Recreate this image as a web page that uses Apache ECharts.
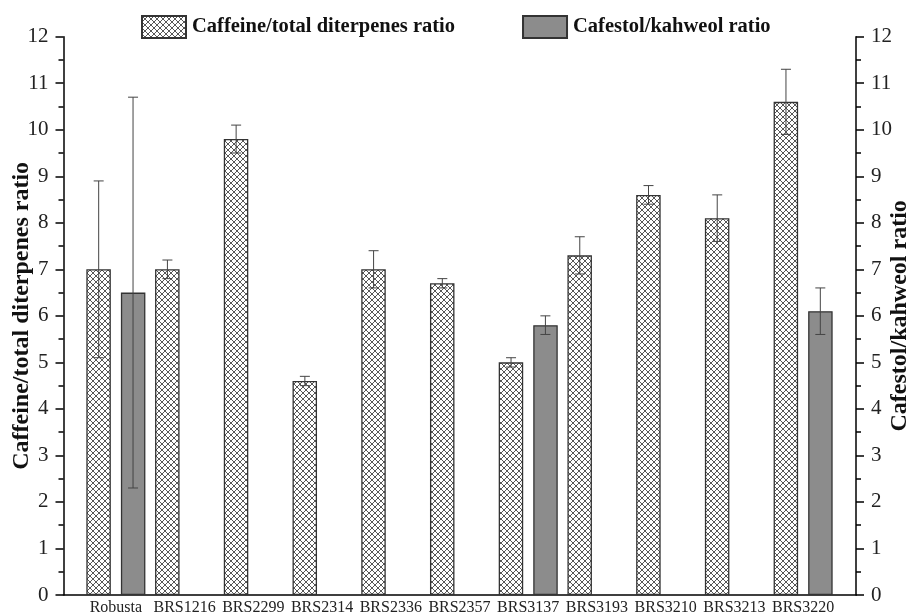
<!DOCTYPE html>
<html>
<head>
<meta charset="utf-8">
<script src="https://cdn.jsdelivr.net/npm/echarts@6/dist/echarts.min.js"></script>
<style>html,body{margin:0;padding:0;background:#fff}#c{width:906px;height:615px}</style>
</head>
<body>
<div id="c"></div>
<script>
const categories = ['Robusta','BRS1216','BRS2299','BRS2314','BRS2336','BRS2357','BRS3137','BRS3193','BRS3210','BRS3213','BRS3220'];
const caffeineRatio = [7.0, 7.0, 9.8, 4.6, 7.0, 6.7, 5.0, 7.3, 8.6, 8.1, 10.6];
const caffeineErr   = [1.9, 0.2, 0.3, 0.1, 0.4, 0.1, 0.1, 0.4, 0.2, 0.5, 0.7];
const cafestolRatio = [6.5, null, null, null, null, null, 5.8, null, null, null, 6.1];
const cafestolErr   = [4.2, null, null, null, null, null, 0.2, null, null, null, 0.5];
const yTicks = [0,1,2,3,4,5,6,7,8,9,10,11,12];
const seriesNames = ['Caffeine/total diterpenes ratio', 'Cafestol/kahweol ratio'];

function hatch(){
  const s = 6;
  const c = document.createElement('canvas'); c.width = s; c.height = s;
  const g = c.getContext('2d');
  g.fillStyle = '#fff'; g.fillRect(0,0,s,s);
  g.strokeStyle = '#444'; g.lineWidth = 0.9;
  g.beginPath();
  g.moveTo(0,0); g.lineTo(s,s);
  g.moveTo(s,0); g.lineTo(0,s);
  g.stroke();
  return c;
}
const hatchFill = {image: hatch(), repeat: 'repeat'};

function errData(means, errs){
  const out = [];
  means.forEach((m,i)=>{ if(m!=null && errs[i]!=null) out.push([i, m, errs[i]]); });
  return out;
}
function errRender(sign){
  return function(params, api){
    const x = api.value(0), m = api.value(1), e = api.value(2);
    const top = api.coord([x, m + e]);
    const bot = api.coord([x, m - e]);
    const bw = api.size([1, 0])[0];
    const cx = top[0] + sign * bw / 4;
    const hw = 5;
    const st = {stroke: '#444', lineWidth: 1};
    return {type: 'group', children: [
      {type:'line', shape:{x1:cx, y1:top[1], x2:cx, y2:bot[1]}, style: st},
      {type:'line', shape:{x1:cx-hw, y1:top[1], x2:cx+hw, y2:top[1]}, style: st},
      {type:'line', shape:{x1:cx-hw, y1:bot[1], x2:cx+hw, y2:bot[1]}, style: st}
    ]};
  };
}

const serif = 'Liberation Serif';
const yAxisCommon = {
  type: 'value', min: 0, max: 12, interval: 1, gridIndex: 0,
  axisLine: {show: true, lineStyle: {color: '#000', width: 1.5}},
  axisTick: {show: true, length: 8, lineStyle: {color: '#000', width: 1.5}},
  minorTick: {show: true, splitNumber: 2, length: 5, lineStyle: {color: '#000', width: 1.5}},
  splitLine: {show: false},
  axisLabel: {fontFamily: serif, fontSize: 21, color: '#222', margin: 15,
    customValues: yTicks},
  nameLocation: 'middle', nameRotate: 90, nameMoveOverlap: false,
  nameTextStyle: {fontFamily: serif, fontWeight: 'bold', fontSize: 24, color: '#111'}
};

const chart = echarts.init(document.getElementById('c'), null, {renderer: 'canvas'});
chart.setOption({
  animation: false,
  backgroundColor: '#fff',
  legend: {
    data: seriesNames, left: 136, top: 10, itemWidth: 44, itemHeight: 22, itemGap: 67,
    icon: 'rect',
    textStyle: {fontFamily: serif, fontWeight: 'bold', fontSize: 20.5, color: '#111', padding: [0,0,0,1]}
  },
  grid: [
    {left: 63.5, right: 50, top: 36.7, bottom: 20, outerBoundsMode: 'none', containLabel: false},
    {left: 81.5, right: 68.5, top: 36.7, bottom: 20, outerBoundsMode: 'none', containLabel: false}
  ],
  xAxis: [
    {type: 'value', gridIndex: 0, min: 0, max: 1,
     axisLine: {show: true, onZero: false, lineStyle: {color: '#000', width: 1.5}},
     axisTick: {show: false}, axisLabel: {show: false}, splitLine: {show: false}},
    {type: 'category', gridIndex: 1, data: categories,
     axisLine: {show: false}, axisTick: {show: false}, splitLine: {show: false},
     axisLabel: {fontFamily: serif, fontSize: 16, color: '#222', margin: 5, interval: 0}}
  ],
  yAxis: [
    Object.assign({}, yAxisCommon, {position: 'left', name: 'Caffeine/total diterpenes ratio', nameGap: 30}),
    Object.assign({}, yAxisCommon, {position: 'right', name: 'Cafestol/kahweol ratio', nameGap: 32}),
    {type: 'value', gridIndex: 1, min: 0, max: 12, show: false}
  ],
  series: [
    {name: seriesNames[0], type: 'bar', xAxisIndex: 1, yAxisIndex: 2,
     data: caffeineRatio, barWidth: 24.5, barGap: '41%',
     itemStyle: {color: hatchFill, borderColor: '#333', borderWidth: 1.3}},
    {name: seriesNames[1], type: 'bar', xAxisIndex: 1, yAxisIndex: 2,
     data: cafestolRatio.map(v => v == null ? '-' : v), barWidth: 24.5, barGap: '41%',
     itemStyle: {color: '#8c8c8c', borderColor: '#333', borderWidth: 1.3}},
    {type: 'custom', xAxisIndex: 1, yAxisIndex: 2, z: 5, silent: true,
     renderItem: errRender(-1), data: errData(caffeineRatio, caffeineErr)},
    {type: 'custom', xAxisIndex: 1, yAxisIndex: 2, z: 5, silent: true,
     renderItem: errRender(1), data: errData(cafestolRatio, cafestolErr)}
  ]
});
</script>
</body>
</html>
